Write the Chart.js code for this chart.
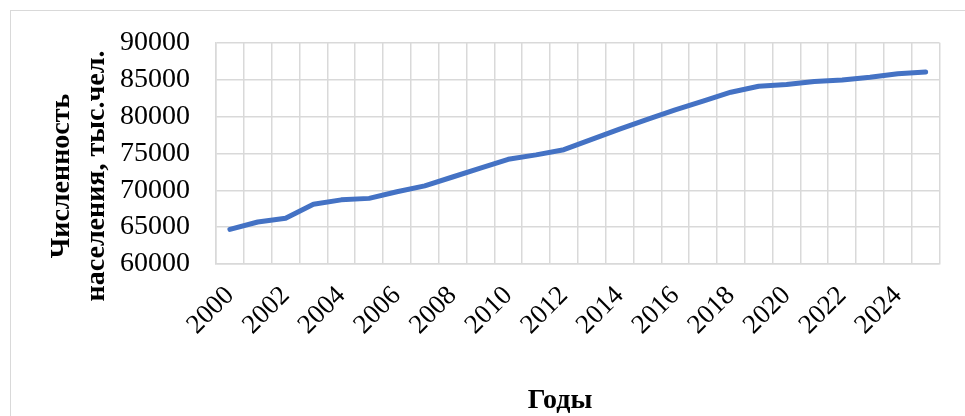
<!DOCTYPE html>
<html>
<head>
<meta charset="utf-8">
<script src="https://cdn.jsdelivr.net/npm/chart.js@4.4.1/dist/chart.umd.min.js"></script>
<style>
  html, body { margin: 0; padding: 0; background: #fff; }
  #wrap { width: 965px; height: 416px; position: relative; }
</style>
</head>
<body>
<div id="wrap"><canvas id="myChart"></canvas></div>
<script>
const years = ['2000','2001','2002','2003','2004','2005','2006','2007','2008','2009','2010','2011','2012',
  '2013','2014','2015','2016','2017','2018','2019','2020','2021','2022','2023','2024','2025'];
const population = [64700, 65700, 66200, 68100, 68700, 68900, 69800, 70600, 71800, 73000, 74200, 74800, 75500,
  76900, 78300, 79600, 80900, 82100, 83300, 84100, 84350, 84750, 84970, 85330, 85800, 86050];
const yTitle = ['Численность', 'населения, тыс.чел.'];
const xTitle = 'Годы';

const gridColor = '#d9d9d9';

// рамка всей диаграммы + подписи осей
const extras = {
  id: 'extras',
  beforeDraw(chart) {
    const c = chart.ctx;
    c.save();
    c.strokeStyle = gridColor;
    c.lineWidth = 1;
    c.strokeRect(10.5, 10.5, 1000, 500);
    c.restore();
  },
  afterDraw(chart) {
    const c = chart.ctx;
    c.save();
    c.fillStyle = '#000';
    c.font = 'bold 28px "Liberation Serif"';
    c.textAlign = 'center';
    c.textBaseline = 'middle';
    c.translate(62, 176);
    c.rotate(-Math.PI / 2);
    c.fillText(yTitle[0], 0, 0);
    c.fillText(yTitle[1], 0, 35);
    c.restore();

    c.save();
    c.fillStyle = '#000';
    c.font = 'bold 28px "Liberation Serif"';
    c.textAlign = 'center';
    c.textBaseline = 'middle';
    c.fillText(xTitle, 560, 401);
    c.restore();
  }
};

const ctx = document.getElementById('myChart');

new Chart(ctx, {
  type: 'line',
  data: {
    labels: years,
    datasets: [{
      data: population,
      borderColor: '#4472C4',
      borderWidth: 5,
      pointRadius: 0,
      borderCapStyle: 'round',
      borderJoinStyle: 'round',
      tension: 0
    }]
  },
  options: {
    responsive: true,
    maintainAspectRatio: false,
    animation: false,
    layout: { padding: { top: 40, right: 23, left: 0, bottom: 0 } },
    plugins: {
      legend: { display: false },
      tooltip: { enabled: false }
    },
    scales: {
      x: {
        offset: true,
        grid: { offset: true, color: gridColor, lineWidth: 1.5, drawTicks: false },
        border: { color: gridColor, width: 1.5 },
        ticks: {
          autoSkip: false,
          minRotation: 45,
          maxRotation: 45,
          padding: 16,
          color: '#000',
          font: { family: 'Liberation Serif', size: 27 },
          callback: function (val, i) { return i % 2 === 0 ? this.getLabelForValue(val) : ''; }
        },
        afterFit(scale) { scale.height = 152; }
      },
      y: {
        min: 60000,
        max: 90000,
        grid: { color: gridColor, lineWidth: 1.5, drawTicks: false },
        border: { color: gridColor, width: 1.5 },
        ticks: {
          stepSize: 5000,
          padding: 26,
          color: '#000',
          font: { family: 'Liberation Serif', size: 28 },
          callback: (v) => String(v)
        },
        afterFit(scale) { scale.width = 216; }
      }
    }
  },
  plugins: [extras]
});
</script>
</body>
</html>
